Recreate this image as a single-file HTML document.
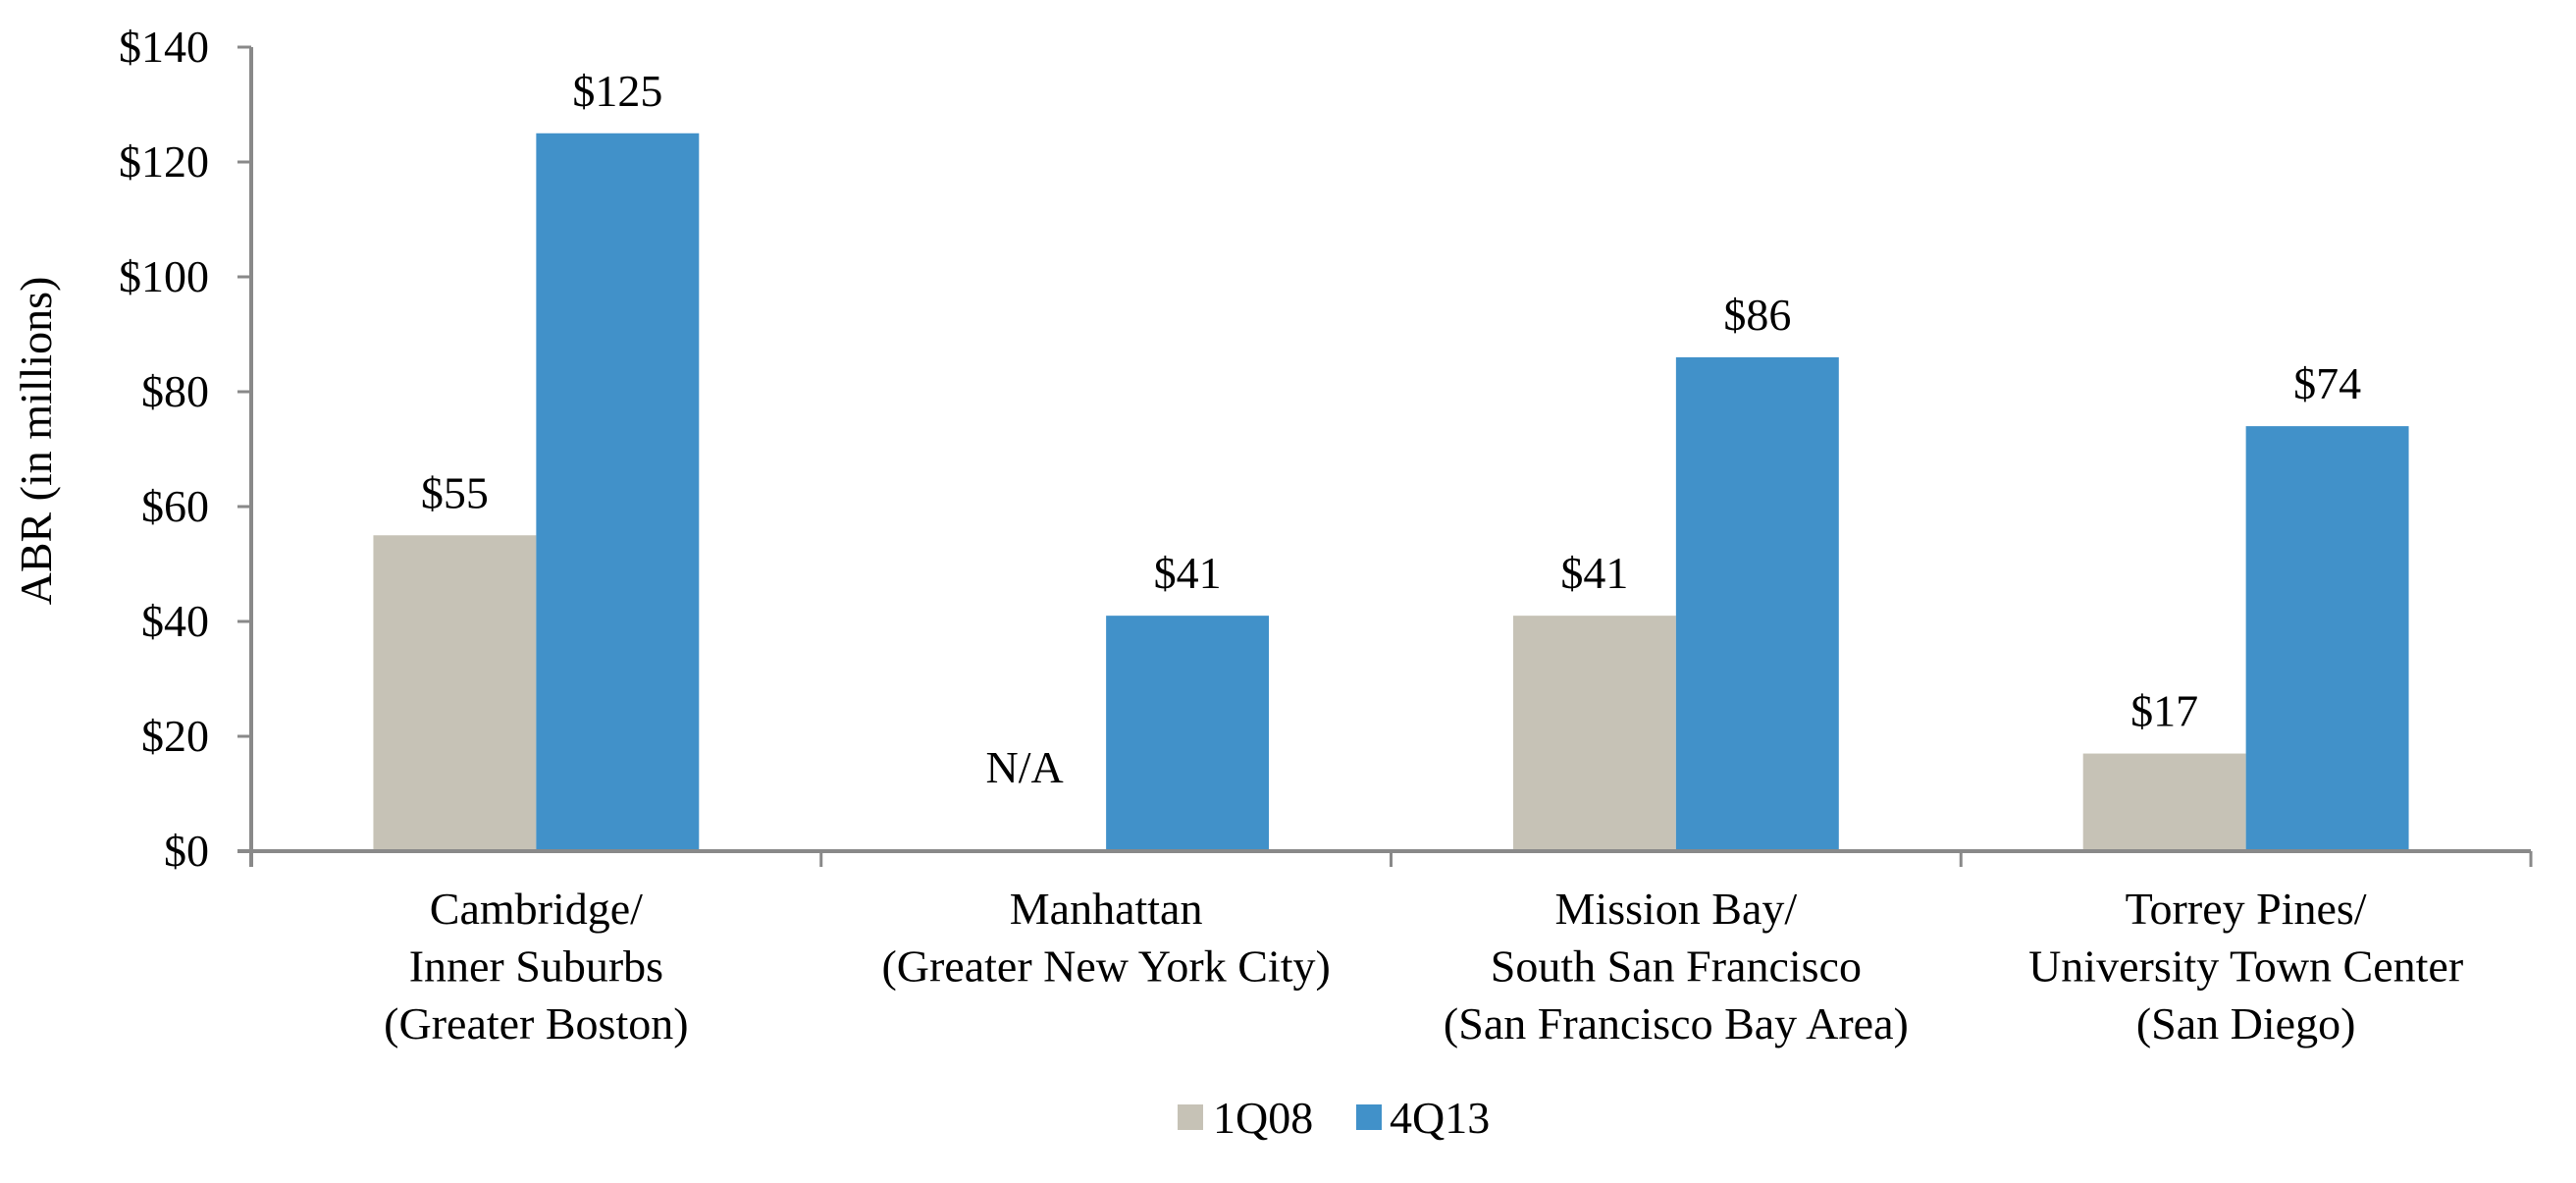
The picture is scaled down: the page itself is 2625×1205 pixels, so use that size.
<!DOCTYPE html>
<html><head><meta charset="utf-8"><style>
html,body{margin:0;padding:0;background:#fff;}
svg, svg text{font-family:"Liberation Serif","Times New Roman","Times","Tinos","Nimbus Roman","DejaVu Serif","Noto Serif CJK SC",serif;}
svg text{fill:#000;}
</style></head><body>
<svg id="chart" width="2625" height="1200" viewBox="0 0 2625 1200" xmlns="http://www.w3.org/2000/svg">
<text x="0" y="0" font-size="46" text-anchor="middle" transform="translate(52,449) rotate(-90)">ABR (in millions)</text>
<g id="ticks"></g><g id="bars"></g><g id="axes"></g><g id="labels"></g>
<g>
<rect x="1200" y="1125" width="26" height="26" fill="#C6C2B6"/>
<text x="1236" y="1154" font-size="46">1Q08</text>
<rect x="1382" y="1125" width="26" height="26" fill="#4191C9"/>
<text x="1416" y="1154" font-size="46">4Q13</text>
</g>
</svg>
<script>
const categories=[["Cambridge/","Inner Suburbs","(Greater Boston)"],["Manhattan","(Greater New York City)"],["Mission Bay/","South San Francisco","(San Francisco Bay Area)"],["Torrey Pines/","University Town Center","(San Diego)"]];
const series1Q08=[55,null,41,17];
const series4Q13=[125,41,86,74];
const valueLabels1Q08=["$55","N/A","$41","$17"];
const valueLabels4Q13=["$125","$41","$86","$74"];
const yTicks=[0,20,40,60,80,100,120,140];
const yTickLabels=["$0","$20","$40","$60","$80","$100","$120","$140"];

const NS="http://www.w3.org/2000/svg";
const X0=256,X1=2579,Y0=867,Y1=48,YMAX=140;
const bandW=(X1-X0)/categories.length;
const barW=bandW/3.5;
function y(v){return Y0-(v/YMAX)*(Y0-Y1);}
function bandX(i){return X0+i*bandW;}
function mk(tag,attrs,parent){const e=document.createElementNS(NS,tag);for(const k in attrs)e.setAttribute(k,attrs[k]);parent.appendChild(e);return e;}
const ticksG=document.getElementById('ticks'),barsG=document.getElementById('bars'),axesG=document.getElementById('axes'),labelsG=document.getElementById('labels');

yTicks.forEach((t,i)=>{
  const ln=mk('line',{x1:X0-14,x2:X0,y1:y(t),y2:y(t),stroke:'#898989','stroke-width':3},ticksG);
  
  
  const tx=mk('text',{x:213,y:y(t)+15,'font-size':46,'text-anchor':'end'},ticksG);
  tx.textContent=yTickLabels[i];
  
  
});
const ya=mk('line',{x1:X0,x2:X0,y1:Y1,y2:Y0+16,stroke:'#898989','stroke-width':4},axesG);


const xa=mk('line',{x1:X0-14,x2:X1,y1:Y0,y2:Y0,stroke:'#898989','stroke-width':4},axesG);


for(let i=1;i<=categories.length;i++){
  const t=mk('line',{x1:bandX(i),x2:bandX(i),y1:Y0,y2:Y0+16,stroke:'#898989','stroke-width':3},axesG);
  
  
}
categories.forEach((lines,i)=>{
  const cx=bandX(i)+bandW/2;
  const bx=bandX(i)+barW*0.75;
  if(series1Q08[i]!==null){
    const r=mk('rect',{x:bx,y:y(series1Q08[i]),width:barW,height:Y0-y(series1Q08[i]),fill:'#C6C2B6'},barsG);
    
    
  }
  const r2=mk('rect',{x:bx+barW,y:y(series4Q13[i]),width:barW,height:Y0-y(series4Q13[i]),fill:'#4191C9'},barsG);
  
  
  const l1=mk('text',{x:bx+barW/2,y:(series1Q08[i]!==null?y(series1Q08[i])-28:Y0-70),'font-size':46,'text-anchor':'middle'},labelsG);
  l1.textContent=valueLabels1Q08[i];
  
  
  const l2=mk('text',{x:bx+barW*1.5,y:y(series4Q13[i])-28,'font-size':46,'text-anchor':'middle'},labelsG);
  l2.textContent=valueLabels4Q13[i];
  
  
  lines.forEach((s,j)=>{
    const t=mk('text',{x:cx,y:941+j*58.6,'font-size':46,'text-anchor':'middle'},labelsG);
    t.textContent=s;
    
    
  });
});
</script>
</body></html>
